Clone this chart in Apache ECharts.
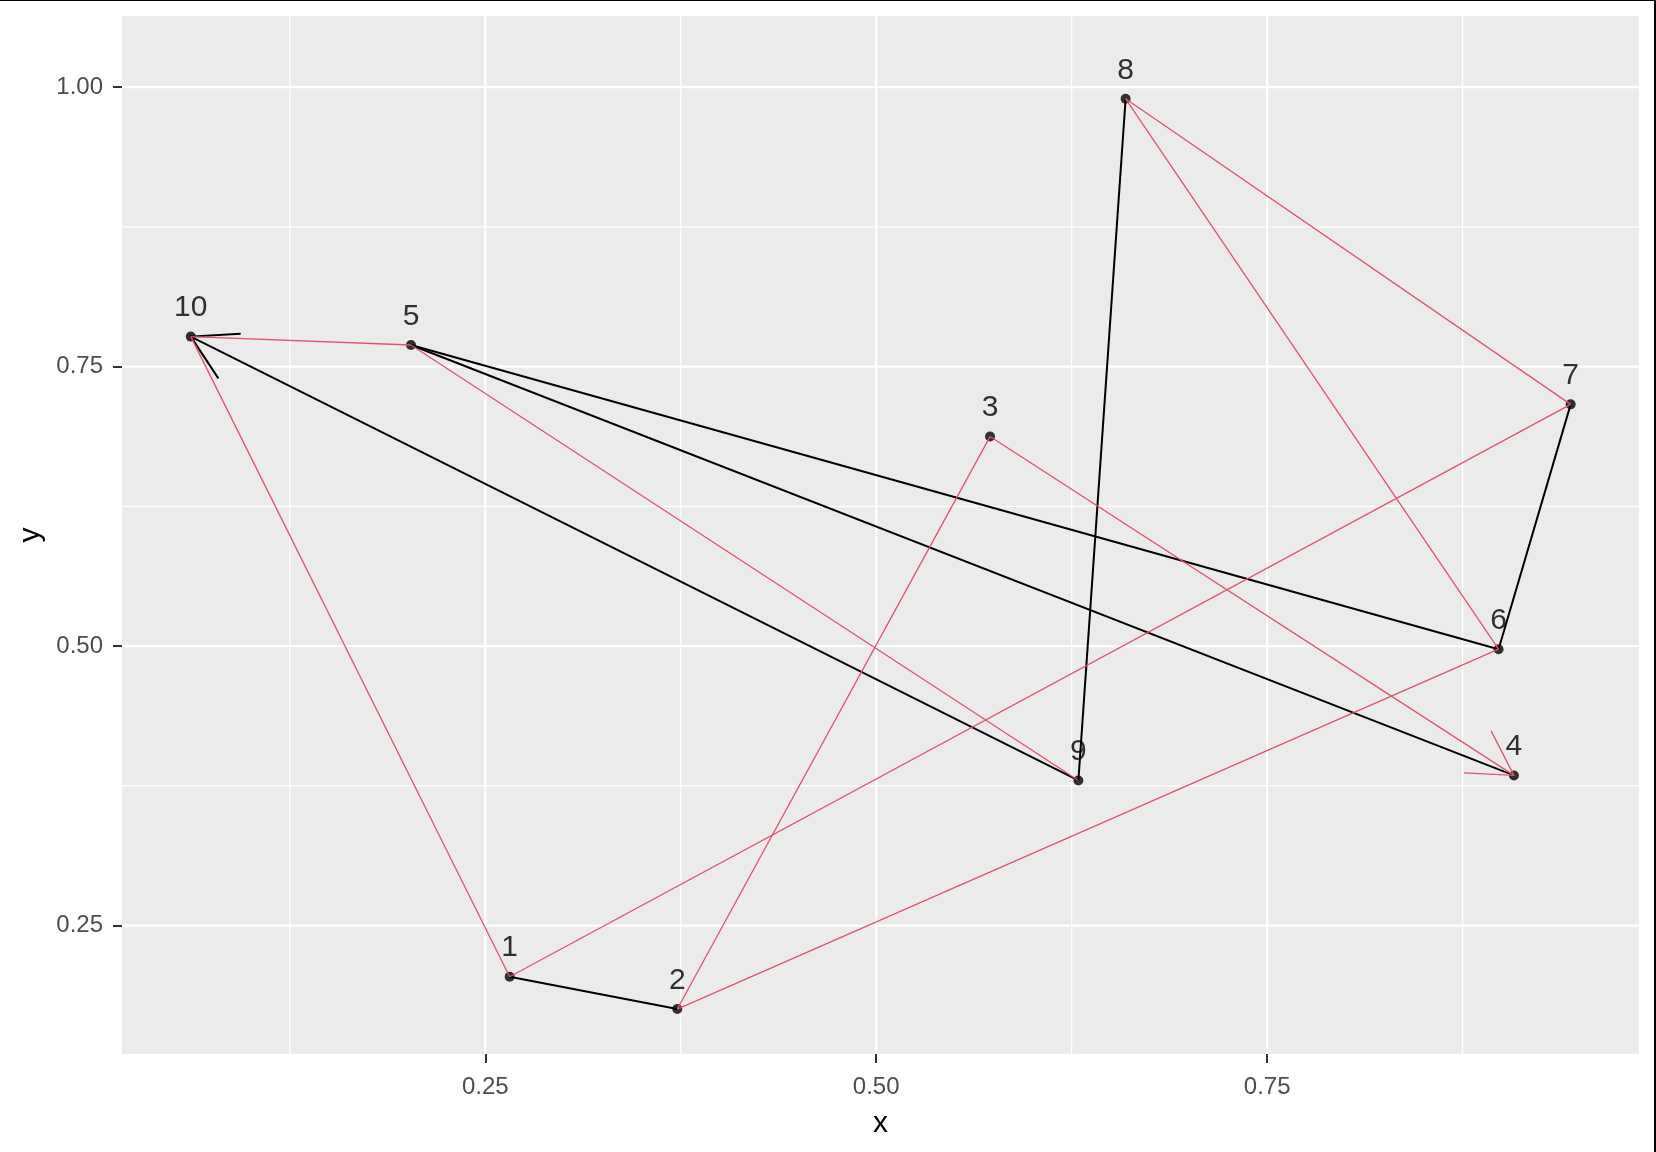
<!DOCTYPE html>
<html>
<head>
<meta charset="utf-8">
<script src="https://cdn.jsdelivr.net/npm/echarts@6/dist/echarts.min.js"></script>
<style>
  html, body { margin: 0; padding: 0; background: #ffffff; }
  #chart { width: 1656px; height: 1152px; }
</style>
</head>
<body>
<div id="chart"></div>
<script>
// points (id = position + 1)
const ptLabels = ['1', '2', '3', '4', '5', '6', '7', '8', '9', '10'];
const ptX = [0.2656, 0.3728, 0.5728, 0.9078, 0.2025, 0.8980, 0.9441, 0.6595, 0.6293, 0.0617];
const ptY = [0.2043, 0.1754, 0.6875, 0.3844, 0.7694, 0.4973, 0.7163, 0.9896, 0.3799, 0.7769];
const labelNudge = 0.03;

// edges as [from, to, arrowAtEnd] using point ids
const blackEdges = [[1, 2, 0], [9, 10, 1], [8, 9, 0], [5, 6, 0], [5, 4, 0], [6, 7, 0]];
const redEdges = [[9, 5, 0], [5, 10, 0], [10, 1, 0], [1, 7, 0], [7, 8, 0], [8, 6, 0], [6, 2, 0], [2, 3, 0], [3, 4, 1]];

// axes
const xMin = 0.0177, xMax = 0.9878;
const yMin = 0.1352, yMax = 1.0637;
const xTicks = [0.25, 0.5, 0.75];
const xTickLabels = ['0.25', '0.50', '0.75'];
const yTicks = [0.25, 0.5, 0.75, 1.0];
const yTickLabels = ['0.25', '0.50', '0.75', '1.00'];
const xMinor = [0.125, 0.375, 0.625, 0.875];
const yMinor = [0.375, 0.625, 0.875];

const FONT = '"Liberation Sans", Arial, sans-serif';
const RED = '#DF536B';

document.addEventListener('DOMContentLoaded', function () {
    const chart = echarts.init(document.getElementById('chart'));

    function edgeData(edges) {
        return edges.map(function (e) {
            const a = e[0] - 1, b = e[1] - 1;
            return [ptX[a], ptY[a], ptX[b], ptY[b], e[2]];
        });
    }

    function renderEdge(color, width) {
        return function (params, api) {
            const p1 = api.coord([api.value(0), api.value(1)]);
            const p2 = api.coord([api.value(2), api.value(3)]);
            const children = [{
                type: 'line',
                shape: { x1: p1[0], y1: p1[1], x2: p2[0], y2: p2[1] },
                style: { stroke: color, lineWidth: width }
            }];
            if (api.value(4)) {
                // open arrow head, 30 degrees
                const ang = Math.atan2(p1[1] - p2[1], p1[0] - p2[0]);
                const L = 50, a = Math.PI / 6;
                children.push({
                    type: 'polyline',
                    shape: {
                        points: [
                            [p2[0] + L * Math.cos(ang + a), p2[1] + L * Math.sin(ang + a)],
                            [p2[0], p2[1]],
                            [p2[0] + L * Math.cos(ang - a), p2[1] + L * Math.sin(ang - a)]
                        ]
                    },
                    style: { stroke: color, lineWidth: width, fill: null }
                });
            }
            return { type: 'group', children: children };
        };
    }

    // grid lines: [value, 0 = vertical / 1 = horizontal, width]
    const gridData = [];
    xMinor.forEach(v => gridData.push([v, 0, 1.2]));
    yMinor.forEach(v => gridData.push([v, 1, 1.2]));
    xTicks.forEach(v => gridData.push([v, 0, 2.2]));
    yTicks.forEach(v => gridData.push([v, 1, 2.2]));

    const option = {
        backgroundColor: '#ffffff',
        animation: false,
        grid: {
            left: 122, top: 16, width: 1517, height: 1038,
            show: true, backgroundColor: '#EBEBEB', borderWidth: 0
        },
        xAxis: {
            type: 'value', min: xMin, max: xMax,
            axisLine: { show: false },
            axisTick: { show: true, customValues: xTicks, length: 9, lineStyle: { color: '#333333', width: 2 } },
            axisLabel: {
                customValues: xTicks, margin: 21,
                color: '#4D4D4D', fontSize: 24, fontFamily: FONT,
                formatter: v => xTickLabels[xTicks.indexOf(v)] || ''
            },
            splitLine: { show: false },
            name: 'x', nameLocation: 'middle', nameGap: 55,
            nameTextStyle: { color: '#000000', fontSize: 30, fontFamily: FONT }
        },
        yAxis: {
            type: 'value', min: yMin, max: yMax,
            axisLine: { show: false },
            axisTick: { show: true, customValues: yTicks, length: 9, lineStyle: { color: '#333333', width: 2 } },
            axisLabel: {
                customValues: yTicks, margin: 19,
                color: '#4D4D4D', fontSize: 24, fontFamily: FONT,
                formatter: v => yTickLabels[yTicks.indexOf(v)] || ''
            },
            splitLine: { show: false },
            name: 'y', nameLocation: 'middle', nameGap: 70,
            nameTextStyle: { color: '#000000', fontSize: 30, fontFamily: FONT }
        },
        graphic: [
            { type: 'rect', shape: { x: 0, y: 0, width: 1656, height: 1 }, style: { fill: '#000000' }, z: 100 },
            { type: 'rect', shape: { x: 1654, y: 0, width: 2, height: 1152 }, style: { fill: '#000000' }, z: 100 }
        ],
        series: [
            {
                type: 'custom', silent: true, z: 1,
                data: gridData,
                renderItem: function (params, api) {
                    const cs = params.coordSys;
                    const v = api.value(0);
                    let shape;
                    if (api.value(1) === 0) {
                        const px = api.coord([v, yMin])[0];
                        shape = { x1: px, y1: cs.y, x2: px, y2: cs.y + cs.height };
                    } else {
                        const py = api.coord([xMin, v])[1];
                        shape = { x1: cs.x, y1: py, x2: cs.x + cs.width, y2: py };
                    }
                    return { type: 'line', shape: shape, style: { stroke: '#ffffff', lineWidth: api.value(2) } };
                }
            },
            {
                type: 'custom', silent: true, z: 3,
                data: edgeData(blackEdges),
                renderItem: renderEdge('#000000', 2)
            },
            {
                type: 'scatter', silent: true, z: 4,
                symbolSize: 10,
                itemStyle: { color: '#000000' },
                data: ptX.map((x, i) => [x, ptY[i]])
            },
            {
                type: 'custom', silent: true, z: 5,
                data: edgeData(redEdges),
                renderItem: renderEdge(RED, 1.3)
            },
            {
                type: 'scatter', silent: true, z: 6,
                symbolSize: 1,
                itemStyle: { color: 'rgba(0,0,0,0)' },
                label: {
                    show: true, position: 'inside', offset: [0, 5],
                    color: '#000000', fontSize: 30, fontFamily: FONT,
                    formatter: p => ptLabels[p.dataIndex]
                },
                data: ptX.map((x, i) => [x, ptY[i] + labelNudge])
            }
        ]
    };

    chart.setOption(option);
});
</script>
</body>
</html>
